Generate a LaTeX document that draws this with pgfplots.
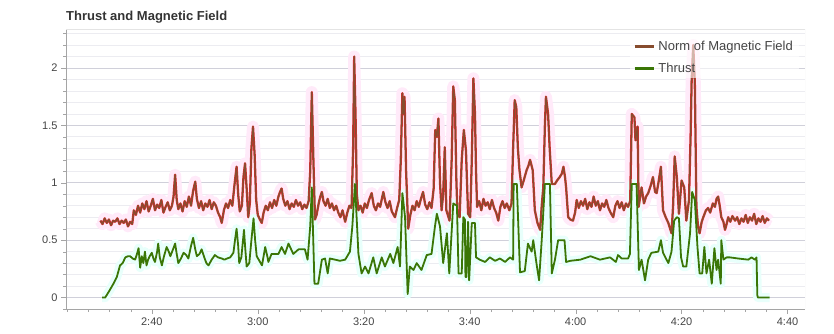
\documentclass[border=0pt]{standalone}
\usepackage{pgfplots}
\usepackage{pgfplotstable}
\pgfplotsset{compat=1.18}
\usepackage{fontspec}
\setmainfont{Liberation Sans}

\definecolor{magbrown}{RGB}{135,76,46}
\definecolor{magred}{RGB}{212,48,48}
\definecolor{magpink}{RGB}{255,234,249}
\definecolor{thgreen}{RGB}{58,118,6}
\definecolor{thhaze}{RGB}{232,255,251}
\definecolor{gridmaj}{RGB}{208,208,218}
\definecolor{gridmin}{RGB}{236,236,241}
\definecolor{axisgray}{RGB}{165,165,165}
\definecolor{framegray}{RGB}{228,228,228}
\definecolor{textgray}{RGB}{68,68,68}
\definecolor{titlegray}{RGB}{51,51,51}

\pgfplotstableread{
x y
150.3 0.67
150.7 0.64
151.1 0.69
151.5 0.65
151.9 0.68
152.3 0.63
152.7 0.67
153.1 0.66
153.5 0.69
153.9 0.64
154.3 0.67
154.7 0.65
155.1 0.68
155.5 0.62
155.9 0.66
156.3 0.64
156.6 0.76
157.0 0.72
157.4 0.80
157.8 0.74
158.2 0.82
158.6 0.77
159.0 0.84
159.4 0.75
159.8 0.80
160.2 0.86
160.6 0.76
161.0 0.81
161.4 0.78
161.8 0.85
162.2 0.74
162.6 0.79
163.0 0.83
163.4 0.76
163.8 0.80
164.1 0.88
164.4 1.07
164.7 0.85
165.0 0.77
165.4 0.82
165.8 0.75
166.2 0.84
166.6 0.79
167.0 0.88
167.4 0.80
167.8 0.93
168.2 1.01
168.5 0.86
168.9 0.78
169.3 0.84
169.7 0.76
170.1 0.82
170.5 0.79
170.9 0.85
171.3 0.77
171.7 0.83
172.1 0.80
172.5 0.74
172.9 0.70
173.2 0.65
173.6 0.76
174.0 0.82
174.4 0.78
174.8 0.85
175.2 0.80
175.6 0.98
176.0 1.14
176.3 0.90
176.6 0.75
177.0 0.80
177.3 1.05
177.6 1.17
177.9 0.95
178.2 0.70
178.5 0.82
178.8 1.30
179.1 1.49
179.4 1.25
179.7 0.85
180.0 0.72
180.4 0.68
180.75 0.65
181.1 0.74
181.5 0.80
181.9 0.76
182.3 0.83
182.7 0.78
183.1 0.85
183.5 0.80
183.9 0.88
184.2 0.92
184.5 0.95
184.8 0.86
185.2 0.80
185.6 0.84
186.0 0.77
186.4 0.82
186.8 0.79
187.2 0.85
187.6 0.80
188.0 0.83
188.4 0.77
188.8 0.81
189.2 0.78
189.6 0.84
189.9 1.10
190.2 1.79
190.5 1.20
190.8 0.68
191.1 0.72
191.5 0.82
191.8 0.88
192.1 0.92
192.4 0.84
192.8 0.80
193.2 0.86
193.6 0.78
194.0 0.82
194.4 0.76
194.8 0.80
195.2 0.74
195.6 0.70
196.0 0.76
196.5 0.66
196.9 0.74
197.3 0.80
197.7 0.78
198.0 1.30
198.2 2.10
198.45 1.60
198.7 0.90
199.0 0.76
199.4 0.80
199.8 0.74
200.2 0.82
200.6 0.78
201.0 0.85
201.5 0.91
201.9 0.80
202.3 0.76
202.7 0.82
203.1 0.79
203.7 0.92
204.1 0.83
204.5 0.78
204.9 0.84
205.3 0.75
205.9 0.70
206.3 0.78
206.7 0.85
207.0 1.20
207.3 1.78
207.5 1.60
207.7 1.75
208.0 1.10
208.4 0.60
208.8 0.72
209.2 0.80
209.6 0.76
210.0 0.84
210.4 0.79
210.8 0.86
211.2 0.92
211.6 0.81
212.0 0.77
212.4 0.83
212.8 0.78
213.2 0.95
213.5 1.46
213.8 1.40
214.1 1.56
214.4 1.00
214.7 0.76
215.0 0.90
215.3 1.31
215.6 0.76
216.2 0.67
216.6 1.20
216.9 1.84
217.2 1.72
217.5 1.00
217.7 0.73
218.1 0.70
218.5 1.20
218.9 1.46
219.3 1.28
219.5 1.00
219.7 0.73
220.1 0.70
220.4 1.20
220.7 1.91
221.0 1.60
221.2 1.10
221.4 0.79
221.8 0.84
222.2 0.76
222.6 0.86
223.0 0.80
223.4 0.83
223.8 0.77
224.2 0.85
224.6 0.78
225.0 0.74
225.4 0.67
225.8 0.79
226.2 0.84
226.6 0.78
227.0 0.82
227.5 0.76
227.9 0.82
228.2 1.30
228.5 1.72
228.8 1.66
229.1 1.30
229.4 1.11
229.8 0.96
230.2 1.02
230.75 1.11
231.1 1.15
231.4 1.20
231.9 1.11
232.3 0.76
232.8 0.65
233.3 0.59
233.6 0.80
233.9 0.96
234.2 1.50
234.4 1.75
234.8 1.60
235.1 1.30
235.5 0.99
236.1 0.99
236.5 1.02
237.0 1.05
237.4 1.08
237.7 1.14
238.0 1.05
238.2 0.96
238.6 0.70
239.0 0.68
239.5 0.67
239.9 0.74
240.2 0.85
240.6 0.78
241.0 0.84
241.4 0.80
241.8 0.86
242.2 0.77
242.6 0.83
243.0 0.79
243.4 0.88
243.8 0.80
244.2 0.84
244.6 0.76
245.0 0.82
245.4 0.79
245.8 0.85
246.2 0.78
246.6 0.74
247.1 0.70
247.5 0.80
247.9 0.84
248.3 0.78
248.7 0.83
249.1 0.76
249.5 0.82
249.9 0.79
250.3 0.84
250.6 1.60
251.1 1.57
251.3 1.37
251.7 1.49
251.9 0.79
252.45 0.96
252.9 0.82
253.3 0.88
253.7 0.91
254.2 0.98
254.6 1.05
255.0 0.92
255.3 0.91
255.7 1.02
256.1 1.14
256.5 0.76
257.0 0.70
257.5 0.65
258.1 0.56
258.4 0.80
258.7 1.23
259.1 1.05
259.5 0.73
260.0 1.02
260.5 0.96
260.9 0.67
261.4 0.85
261.7 1.40
261.9 1.89
262.2 2.20
262.5 1.87
262.8 0.79
263.1 0.62
263.4 0.56
263.8 0.66
264.1 0.70
264.6 0.76
265.0 0.78
265.4 0.74
265.9 0.82
266.3 0.79
266.6 0.86
266.9 0.88
267.2 0.80
267.5 0.70
267.9 0.66
268.2 0.59
268.5 0.64
268.8 0.70
269.2 0.66
269.6 0.71
270.1 0.67
270.5 0.70
270.9 0.64
271.3 0.69
271.7 0.66
272.1 0.72
272.5 0.65
272.9 0.70
273.3 0.67
273.7 0.73
274.1 0.64
274.5 0.69
274.9 0.66
275.3 0.71
275.7 0.65
276.1 0.69
276.5 0.67
}\magtable

\pgfplotstableread{
x y
150.6 0
151.2 0
152.0 0.06
152.75 0.12
153.4 0.18
154.0 0.28
154.5 0.30
155.0 0.35
155.5 0.36
155.9 0.36
156.4 0.34
156.85 0.33
157.2 0.38
157.5 0.43
157.8 0.26
158.1 0.36
158.4 0.30
158.7 0.40
159.0 0.28
159.3 0.33
159.6 0.36
160.0 0.39
160.3 0.34
160.6 0.31
161.0 0.40
161.2 0.47
161.5 0.35
161.9 0.28
162.3 0.36
162.8 0.44
163.2 0.40
163.5 0.36
164.0 0.42
164.4 0.47
164.7 0.38
165.0 0.30
165.5 0.34
166.0 0.39
166.5 0.37
166.9 0.34
167.4 0.45
167.8 0.52
168.2 0.42
168.5 0.36
169.0 0.38
169.4 0.42
169.9 0.35
170.3 0.30
170.7 0.28
171.3 0.33
171.9 0.37
172.5 0.35
173.2 0.34
173.7 0.33
174.2 0.34
174.8 0.35
175.4 0.39
175.7 0.50
176.0 0.60
176.3 0.45
176.5 0.30
176.9 0.35
177.4 0.59
177.6 0.45
177.9 0.27
178.4 0.30
178.8 0.50
179.2 0.69
179.5 0.50
179.8 0.36
180.3 0.32
180.8 0.28
181.1 0.36
181.4 0.44
181.8 0.36
182.0 0.31
182.6 0.38
183.9 0.38
184.5 0.44
185.15 0.38
185.8 0.47
186.7 0.38
187.7 0.42
188.9 0.42
189.4 0.33
189.9 0.62
190.2 0.96
190.7 0.12
191.4 0.12
192.1 0.33
192.7 0.34
193.2 0.21
193.6 0.34
194.6 0.33
195.5 0.32
196.5 0.33
197.4 0.40
197.85 0.62
198.35 0.99
199.0 0.38
199.6 0.21
200.25 0.27
200.9 0.21
201.8 0.35
202.45 0.21
203.4 0.35
204.0 0.27
205.0 0.38
205.6 0.30
206.4 0.44
206.85 0.27
207.3 0.91
207.8 0.70
208.3 0.03
208.7 0.27
209.4 0.24
210.0 0.30
210.9 0.24
211.9 0.37
212.8 0.38
213.45 0.62
213.8 0.73
214.4 0.62
215.0 0.30
215.7 0.56
216.15 0.21
216.9 0.82
217.6 0.80
217.9 0.21
218.5 0.21
218.8 0.70
219.1 0.68
219.2 0.18
219.4 0.18
219.7 0.66
219.9 0.15
220.4 0.65
221.0 0.65
221.2 0.35
221.9 0.33
222.9 0.31
223.8 0.35
224.8 0.32
225.7 0.34
226.7 0.31
227.6 0.35
228.2 0.33
228.3 0.99
228.9 0.99
229.5 0.22
230.4 0.23
231.0 0.47
231.7 0.40
232.0 0.50
232.6 0.30
233.1 0.15
233.6 0.50
234.2 0.99
235.15 0.99
235.5 0.21
236.1 0.33
236.7 0.50
237.9 0.50
238.2 0.31
239.0 0.32
240.9 0.33
242.8 0.36
244.6 0.33
246.5 0.35
247.6 0.31
248.0 0.37
248.7 0.34
249.9 0.34
250.25 0.38
250.6 0.99
251.5 0.99
251.95 0.24
252.45 0.33
253.1 0.15
253.7 0.33
254.3 0.39
255.6 0.40
256.1 0.50
256.5 0.39
257.5 0.30
258.1 0.40
258.6 0.67
259.1 0.70
259.5 0.69
259.9 0.35
260.3 0.27
260.9 0.27
261.6 0.56
262.0 0.92
262.5 0.85
263.0 0.44
263.4 0.21
263.9 0.21
264.3 0.44
264.7 0.21
265.2 0.33
265.7 0.12
266.2 0.43
266.6 0.24
266.9 0.33
267.4 0.12
267.5 0.50
267.9 0.33
268.5 0.35
269.1 0.35
270.7 0.34
272.6 0.33
273.2 0.35
273.85 0.33
274.15 0.35
274.3 0.02
274.4 0
276.6 0
}\thrusttable

\begin{document}
\begin{tikzpicture}
\useasboundingbox (0,0) rectangle (834pt,333pt);
\node[anchor=base west, inner sep=0pt, text=titlegray] at (66pt,312.3pt)
  {\bfseries\fontsize{13}{15}\selectfont Thrust and Magnetic Field};
\begin{axis}[
  at={(66pt,24pt)}, anchor=south west,
  scale only axis, width=739pt, height=280pt,
  xmin=143.8, xmax=283.3, ymin=-0.10, ymax=2.34,
  axis lines=left, axis line style={-, draw=axisgray},
  tick align=outside, major tick length=5pt, minor tick length=3pt,
  tick style={draw=axisgray},
  xtick={160,180,200,220,240,260,280},
  xticklabels={2:40,3:00,3:20,3:40,4:00,4:20,4:40},
  minor xtick={144,148,...,280},
  ytick={0,0.5,1,1.5,2},
  yticklabels={0,0.5,1,1.5,2},
  minor ytick={-0.1,0.1,0.2,0.3,0.4,0.6,0.7,0.8,0.9,1.1,1.2,1.3,1.4,1.6,1.7,1.8,1.9,2.1,2.2,2.3},
  ymajorgrids, yminorgrids,
  major grid style={draw=gridmaj, line width=0.8pt},
  minor grid style={draw=gridmin, line width=0.8pt},
  ticklabel style={font=\fontsize{11}{13}\selectfont, text=textgray},
  legend style={draw=none, fill=white, fill opacity=0.6, text opacity=1,
    at={(1,1)}, anchor=north east, xshift=-6pt, yshift=-8pt,
    font=\fontsize{13}{15}\selectfont, text=textgray, row sep=7pt,
    nodes={inner xsep=3pt}},
  legend cell align=left,
  legend image post style={line width=2.4pt, xscale=1.15},
]
\addplot[forget plot, magpink, line width=12pt, line join=round] table {\magtable};
\addplot[forget plot, thhaze, line width=9pt, line join=round] table {\thrusttable};
\addplot[forget plot, magred, line width=2.3pt, line join=round] table {\magtable};
\addplot[magbrown, line width=1.2pt, line join=round] table {\magtable};
\addlegendentry{Norm of Magnetic Field}
\addplot[thgreen, line width=1.8pt, line join=round] table {\thrusttable};
\addlegendentry{Thrust}
\draw[framegray, line width=0.8pt] (rel axis cs:0,1) -- (rel axis cs:1,1) -- (rel axis cs:1,0);
\end{axis}
\end{tikzpicture}
\end{document}
